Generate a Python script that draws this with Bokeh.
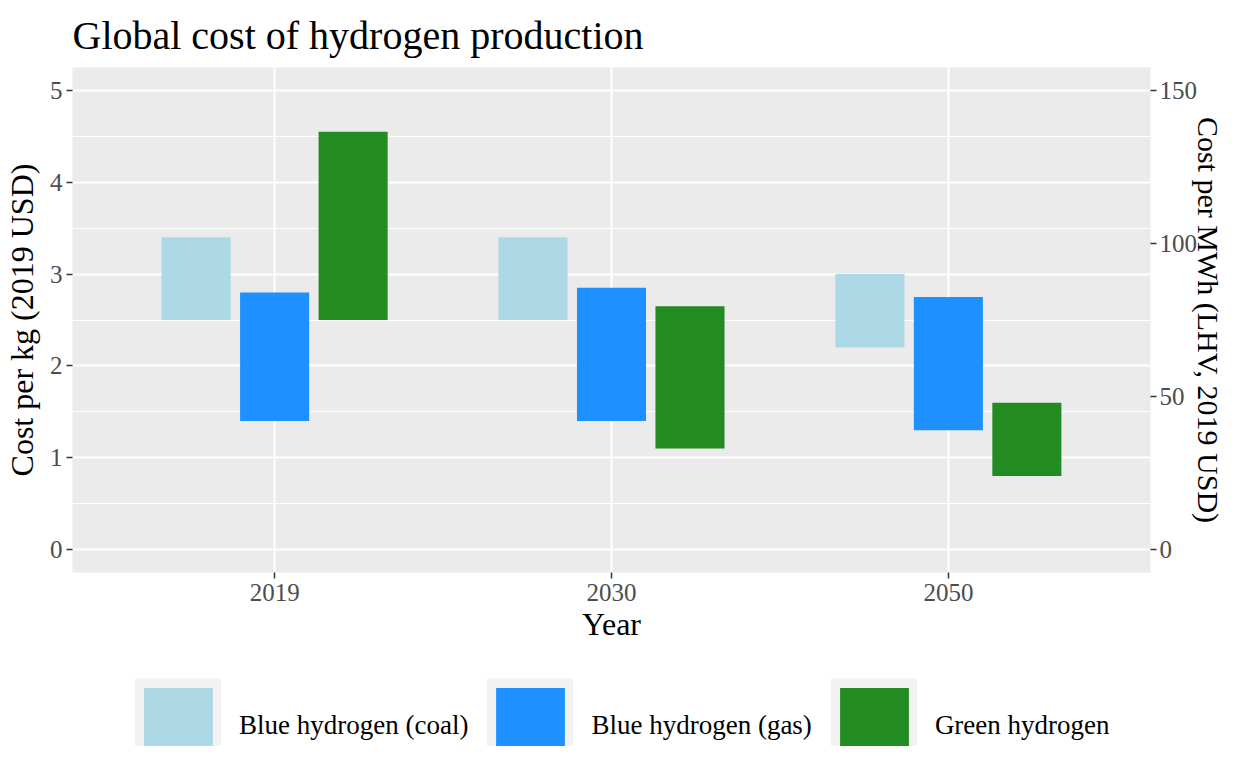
from bokeh.plotting import figure
from bokeh.layouts import column
from bokeh.models import Range1d, LinearAxis, FixedTicker, Legend, LegendItem, ColumnDataSource
from bokeh.transform import dodge
from bokeh.embed import file_html
from bokeh.resources import INLINE

# ---- data ----
years = ["2019", "2030", "2050"]
series = ["Blue hydrogen (coal)", "Blue hydrogen (gas)", "Green hydrogen"]
coal_low = [2.5, 2.5, 2.2]
coal_high = [3.4, 3.4, 3.0]
gas_low = [1.4, 1.4, 1.3]
gas_high = [2.8, 2.85, 2.75]
green_low = [2.5, 1.1, 0.8]
green_high = [4.55, 2.65, 1.6]
colors = ["#ADD8E6", "#1E90FF", "#228B22"]
left_ticks = [0, 1, 2, 3, 4, 5]
left_minor = [0.5, 1.5, 2.5, 3.5, 4.5]
right_ticks = [0, 50, 100, 150]
USD_PER_MWH_PER_USD_PER_KG = 30  # 1 kg H2 (LHV) = 33.3 kWh

FONT = "Liberation Serif"
y_lo, y_hi = -0.25, 5.25

p = figure(width=1228, height=644,
           x_range=Range1d(0.4, 3.6), y_range=Range1d(y_lo, y_hi),
           output_backend="svg", toolbar_location=None,
           min_border_left=0, min_border_right=0, min_border_top=0, min_border_bottom=0)
p.extra_y_ranges = {"mwh": Range1d(y_lo * USD_PER_MWH_PER_USD_PER_KG, y_hi * USD_PER_MWH_PER_USD_PER_KG)}

p.background_fill_color = "#EBEBEB"
p.border_fill_color = "white"
p.outline_line_color = None

xpos = list(range(1, len(years) + 1))
lows = [coal_low, gas_low, green_low]
highs = [coal_high, gas_high, green_high]
offsets = [-0.233, 0.0, 0.233]

bars = []
for lo, hi, col, off in zip(lows, highs, colors, offsets):
    src = ColumnDataSource(dict(x=xpos, low=lo, high=hi, year=years))
    r = p.vbar(x=dodge("x", off, range=p.x_range), width=0.205, bottom="low", top="high",
               source=src, fill_color=col, line_color=None)
    bars.append(r)

# axes
p.xaxis.ticker = FixedTicker(ticks=xpos)
p.xaxis.major_label_overrides = {x: y for x, y in zip(xpos, years)}
p.xaxis.axis_label = "Year"
p.yaxis.ticker = FixedTicker(ticks=left_ticks, minor_ticks=left_minor)
p.yaxis.axis_label = "Cost per kg (2019 USD)"

rax = LinearAxis(y_range_name="mwh", axis_label="Cost per MWh (LHV, 2019 USD)",
                 ticker=FixedTicker(ticks=right_ticks))
p.add_layout(rax, "right")

for ax in [p.xaxis[0], p.yaxis[0], rax]:
    ax.axis_line_color = None
    ax.major_tick_line_color = "#333333"
    ax.major_tick_line_width = 1.5
    ax.major_tick_in = 0
    ax.major_tick_out = 6
    ax.minor_tick_line_color = None
    ax.major_label_text_font = FONT
    ax.major_label_text_font_size = "25px"
    ax.major_label_text_color = "#4D4D4D"
    ax.major_label_standoff = 4
    ax.axis_label_text_font = FONT
    ax.axis_label_text_font_size = "32px"
    ax.axis_label_text_font_style = "normal"
    ax.axis_label_text_color = "black"
    ax.axis_label_standoff = 2
p.yaxis[0].axis_label_standoff = 7
p.xaxis[0].major_label_standoff = 5
p.xaxis[0].axis_label_standoff = 2
rax.major_label_standoff = 3
rax.axis_label_standoff = -8
rax.axis_label_text_font_size = "30px"

p.xgrid.grid_line_color = "white"
p.xgrid.grid_line_width = 2
p.ygrid.grid_line_color = "white"
p.ygrid.grid_line_width = 2
p.ygrid.minor_grid_line_color = "white"
p.ygrid.minor_grid_line_width = 1.1

# title
p.title.text = "Global cost of hydrogen production"
p.title.text_font = FONT
p.title.text_font_size = "40px"
p.title.text_font_style = "normal"
p.title.text_color = "black"
p.title.align = "left"
p.title.standoff = 20

# ---- legend strip below the plot ----
pl = figure(width=1228, height=102, x_range=Range1d(0, 1), y_range=Range1d(0, 1),
            x_axis_location=None, y_axis_location=None, title=None,
            output_backend="svg", toolbar_location=None, min_border=0)
pl.outline_line_color = None
pl.grid.visible = False

nan = float("nan")
items = []
for name, col in zip(series, colors):
    bg = pl.quad(left=[nan], right=[nan], top=[nan], bottom=[nan], fill_color="#F2F2F2",
                 line_color="#F2F2F2", line_width=19, line_join="miter")
    fg = pl.quad(left=[nan], right=[nan], top=[nan], bottom=[nan], fill_color=col, line_color=None)
    items.append(LegendItem(label=name, renderers=[bg, fg]))
legend = Legend(items=items, orientation="horizontal", location=(63, -27),
                glyph_width=86, glyph_height=95, label_standoff=18, spacing=19,
                padding=0, margin=0, background_fill_alpha=0, border_line_alpha=0,
                label_text_font=FONT, label_text_font_size="27px", label_text_color="black")
pl.add_layout(legend, "center")

layout = column(p, pl, spacing=0)
open("out.html", "w").write(file_html(layout, INLINE))
